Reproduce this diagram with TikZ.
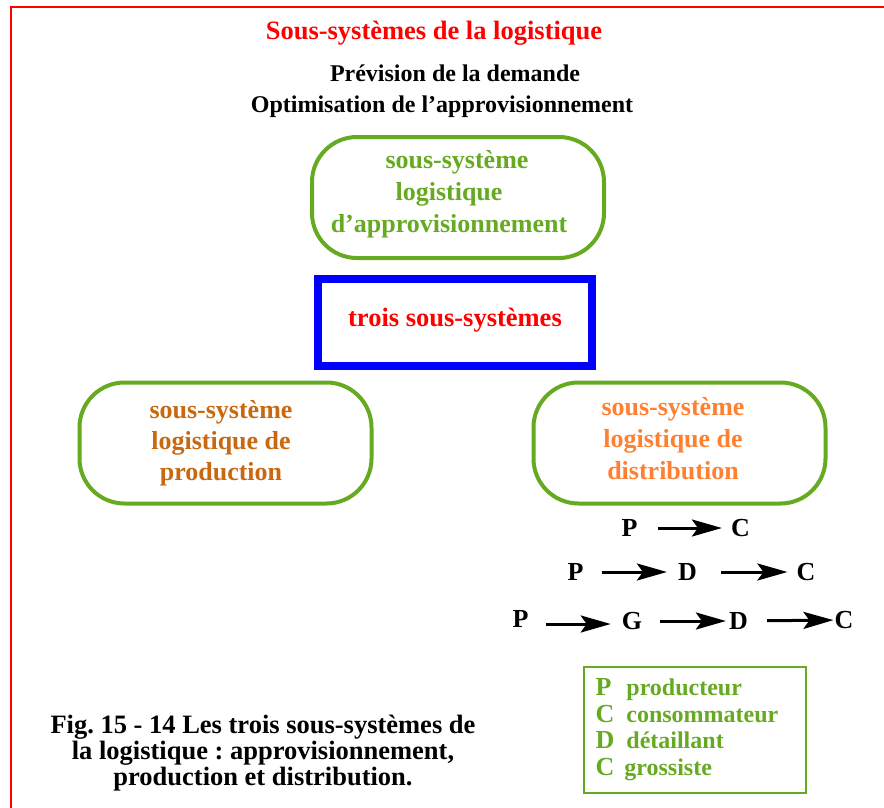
\documentclass[tikz,border=0pt]{standalone}
\usepackage{fontspec}
\setmainfont{Liberation Serif}
\usetikzlibrary{arrows.meta}

\definecolor{framered}{RGB}{255,0,0}
\definecolor{leafgreen}{RGB}{102,170,34}
\definecolor{rust}{RGB}{200,104,16}
\definecolor{tangerine}{RGB}{255,128,48}
\definecolor{pureblue}{RGB}{0,0,255}

\newcommand\legkey[1]{{\fontsize{26}{26.5}\selectfont #1}}
\frenchspacing

\begin{document}
\begin{tikzpicture}[x=1pt,y=-1pt,
  heading/.style={inner sep=0, text=framered, font=\fontsize{26.5}{30}\selectfont\bfseries},
  subhead/.style={inner sep=0, font=\fontsize{24}{28}\selectfont\bfseries},
  roundbox/.style={draw=leafgreen, line width=4pt, rounded corners=45pt,
    minimum width=292pt, minimum height=121pt, inner sep=0},
  boxtext/.style={inner sep=0, align=center, font=\fontsize{26}{32}\selectfont\bfseries},
  bluebox/.style={draw=pureblue, line width=8pt, minimum width=274pt,
    minimum height=87pt, inner sep=0},
  letter/.style={inner sep=0, font=\fontsize{26}{30}\selectfont\bfseries},
  flow/.style={line width=3pt, -{Stealth[length=30pt,width=17pt,inset=6pt]}},
  legendbox/.style={draw=leafgreen, line width=2.5pt, minimum width=222pt,
    minimum height=126pt, inner sep=0, text=leafgreen,
    font=\fontsize{24}{26.5}\selectfont\bfseries},
  caption/.style={inner sep=0, align=center, font=\fontsize{26.5}{26}\selectfont\bfseries}
]
\useasboundingbox (0,0) rectangle (884,808);

% page frame: top and left edges only
\draw[framered, line width=2.5pt] (884,7) -- (11,7) -- (11,808);

% headings
\node[heading] (title) at (434,33) {Sous-systèmes de la logistique};
\node[subhead] (demand) at (455,73) {Prévision de la demande};
\node[subhead] (supply) at (442,107) {Optimisation de l’approvisionnement};

% the three subsystems
\node[roundbox] (appro) at (458,197.5) {};
\node[boxtext, text=leafgreen] (approtext) at (449,194)
  {\hspace*{16pt}sous-système\\logistique\\d’approvisionnement};

\node[bluebox] (three) at (455,322.5) {};
\node[heading] (threetext) at (455,320) {trois sous-systèmes};

\node[roundbox] (prod) at (225.5,443) {};
\node[boxtext, text=rust, font=\fontsize{26}{31}\selectfont\bfseries] (prodtext) at (221,443)
  {sous-système\\logistique de\\production};

\node[roundbox] (distr) at (679.5,443) {};
\node[boxtext, text=tangerine] (distrtext) at (673,439)
  {sous-système\\logistique de\\distribution};

% distribution channels
\node[letter] (p1) at (629.5,528) {P};
\node[letter] (c1) at (740.5,528) {C};
\draw[flow, shorten <=20pt, shorten >=9pt] (p1) -- (c1);

\node[letter] (p2) at (575.5,572) {P};
\node[letter] (d2) at (687.5,572) {D};
\node[letter] (c2) at (806,572) {C};
\draw[flow, shorten <=18pt, shorten >=11pt] (p2) -- (d2);
\draw[flow, shorten <=24pt, shorten >=9pt] (d2) -- (c2);

\node[letter] (p3) at (520.5,619) {P};
\node[letter] (g3) at (632,621) {G};
\node[letter] (d3) at (738.5,621) {D};
\node[letter] (c3) at (844,620) {C};
\draw[flow, shorten <=17pt, shorten >=11pt] ([yshift=-5pt]p3.east) -- ([yshift=-3pt]g3.west);
\draw[flow, shorten <=18pt, shorten >=3pt] (g3) -- (d3);
\draw[flow, shorten <=19pt, shorten >=1pt] (d3) -- (c3);

% legend (trailing kern keeps the key column near the left edge)
\node[legendbox] (legend) at (695,730)
  {\begin{tabular}{@{}l@{\hspace{12pt}}l@{}}
     \legkey{P} & producteur\\
     \legkey{C} & consommateur\\
     \legkey{D} & détaillant\\
     \legkey{C} & \hspace{-2pt}grossiste
   \end{tabular}\kern16pt};

% caption
\node[caption] (cap) at (263,753)
  {Fig. 15 - 14 Les trois sous-systèmes de\\la logistique : approvisionnement,\\production et distribution.};
\end{tikzpicture}
\end{document}
